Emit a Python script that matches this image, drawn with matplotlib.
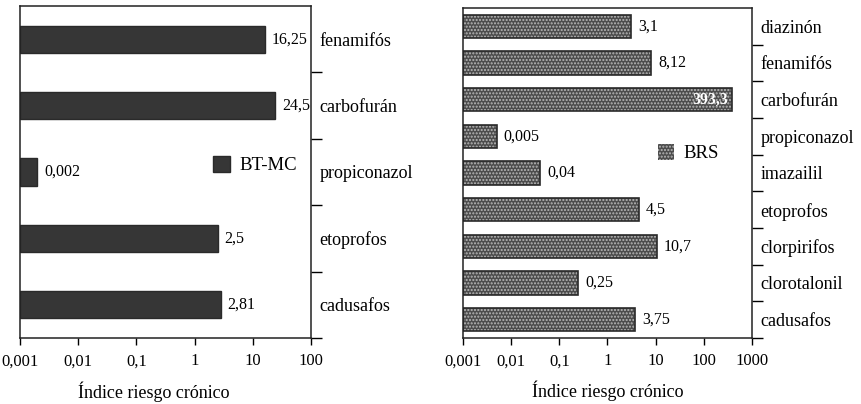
import numpy as np
import matplotlib.pyplot as plt
from matplotlib.ticker import FixedLocator, NullFormatter

plt.rcParams['font.family'] = ['Liberation Serif', 'DejaVu Serif']
plt.rcParams['hatch.linewidth'] = 1.0

# BT-MC
pest_bt = ['fenamifós', 'carbofurán', 'propiconazol', 'etoprofos', 'cadusafos']
vals_bt = [16.25, 24.5, 0.002, 2.5, 2.81]
lbl_bt = ['16,25', '24,5', '0,002', '2,5', '2,81']

# BRS
pest_brs = ['diazinón', 'fenamifós', 'carbofurán', 'propiconazol', 'imazailil',
            'etoprofos', 'clorpirifos', 'clorotalonil', 'cadusafos']
vals_brs = [3.1, 8.12, 393.3, 0.005, 0.04, 4.5, 10.7, 0.25, 3.75]
lbl_brs = ['3,1', '8,12', '393,3', '0,005', '0,04', '4,5', '10,7', '0,25', '3,75']

xt_bt = [0.001, 0.01, 0.1, 1, 10, 100]
xt_brs = [0.001, 0.01, 0.1, 1, 10, 100, 1000]


def fmt(v):
    return ('%g' % v).replace('.', ',')


def setup(ax, names, xt):
    n = len(names)
    ax.set_xscale('log')
    ax.set_xlim(xt[0], xt[-1])
    ax.set_ylim(n - 0.5, -0.5)
    ax.set_xticks(xt)
    ax.set_xticklabels([fmt(v) for v in xt], fontsize=12)
    ax.xaxis.set_minor_locator(FixedLocator([]))
    ax.tick_params(axis='x', direction='out', length=5, width=1, pad=6)
    ax.yaxis.tick_right()
    ax.set_yticks(np.arange(n))
    ax.set_yticklabels(names, fontsize=13)
    ax.yaxis.set_minor_locator(FixedLocator(np.arange(n) + 0.5))
    ax.yaxis.set_minor_formatter(NullFormatter())
    ax.tick_params(axis='y', which='major', length=0, pad=6)
    ax.tick_params(axis='y', which='minor', direction='out', length=8, width=1)
    for s in ax.spines.values():
        s.set_linewidth(1.1)
        s.set_color('#222222')
    ax.set_xlabel('Índice riesgo crónico', fontsize=13, labelpad=8)


fig = plt.figure(figsize=(8.61, 4.04), dpi=100)

# left panel
ax1 = fig.add_axes([0.0232, 0.1634, 0.3380, 0.8218])
setup(ax1, pest_bt, xt_bt)
y1 = np.arange(len(pest_bt))
w1 = np.array(vals_bt) - xt_bt[0]
ax1.barh(y1, w1, height=0.41, left=xt_bt[0],
         color='#363636', edgecolor='#2a2a2a', label='BT-MC')
for i, (v, t) in enumerate(zip(vals_bt, lbl_bt)):
    ax1.annotate(t, (v, i), xytext=(5, 0), textcoords='offset points',
                 va='center', ha='left', fontsize=11.5)
ax1.xaxis.set_label_coords(0.46, -0.13)
ax1.legend(loc='center left', bbox_to_anchor=(0.605, 0.52), frameon=False,
           handlelength=0.9, handleheight=0.9, handletextpad=0.5, fontsize=13.5)

# right panel: dotted fill, then a plain outline on top
ax2 = fig.add_axes([0.5377, 0.1634, 0.3357, 0.8168])
setup(ax2, pest_brs, xt_brs)
y2 = np.arange(len(pest_brs))
w2 = np.array(vals_brs) - xt_brs[0]
ax2.barh(y2, w2, height=0.63, left=xt_brs[0], color='#4c4c4c',
         edgecolor='#b8b8b8', linewidth=0, hatch='.....', label='BRS')
ax2.barh(y2, w2, height=0.63, left=xt_brs[0], fill=False,
         edgecolor='#2a2a2a', linewidth=1.2)
for i, (v, t) in enumerate(zip(vals_brs, lbl_brs)):
    if v > 100:
        ax2.annotate(t, (v, i), xytext=(-3, 0), textcoords='offset points',
                     va='center', ha='right', fontsize=11.5, color='white',
                     fontweight='bold')
    else:
        ax2.annotate(t, (v, i), xytext=(5, 0), textcoords='offset points',
                     va='center', ha='left', fontsize=11.5)
ax2.xaxis.set_label_coords(0.5, -0.13)
ax2.legend(loc='center left', bbox_to_anchor=(0.615, 0.56), frameon=False,
           handlelength=0.9, handleheight=0.9, handletextpad=0.5, fontsize=13.5)

fig.savefig('out.png', dpi=100)
